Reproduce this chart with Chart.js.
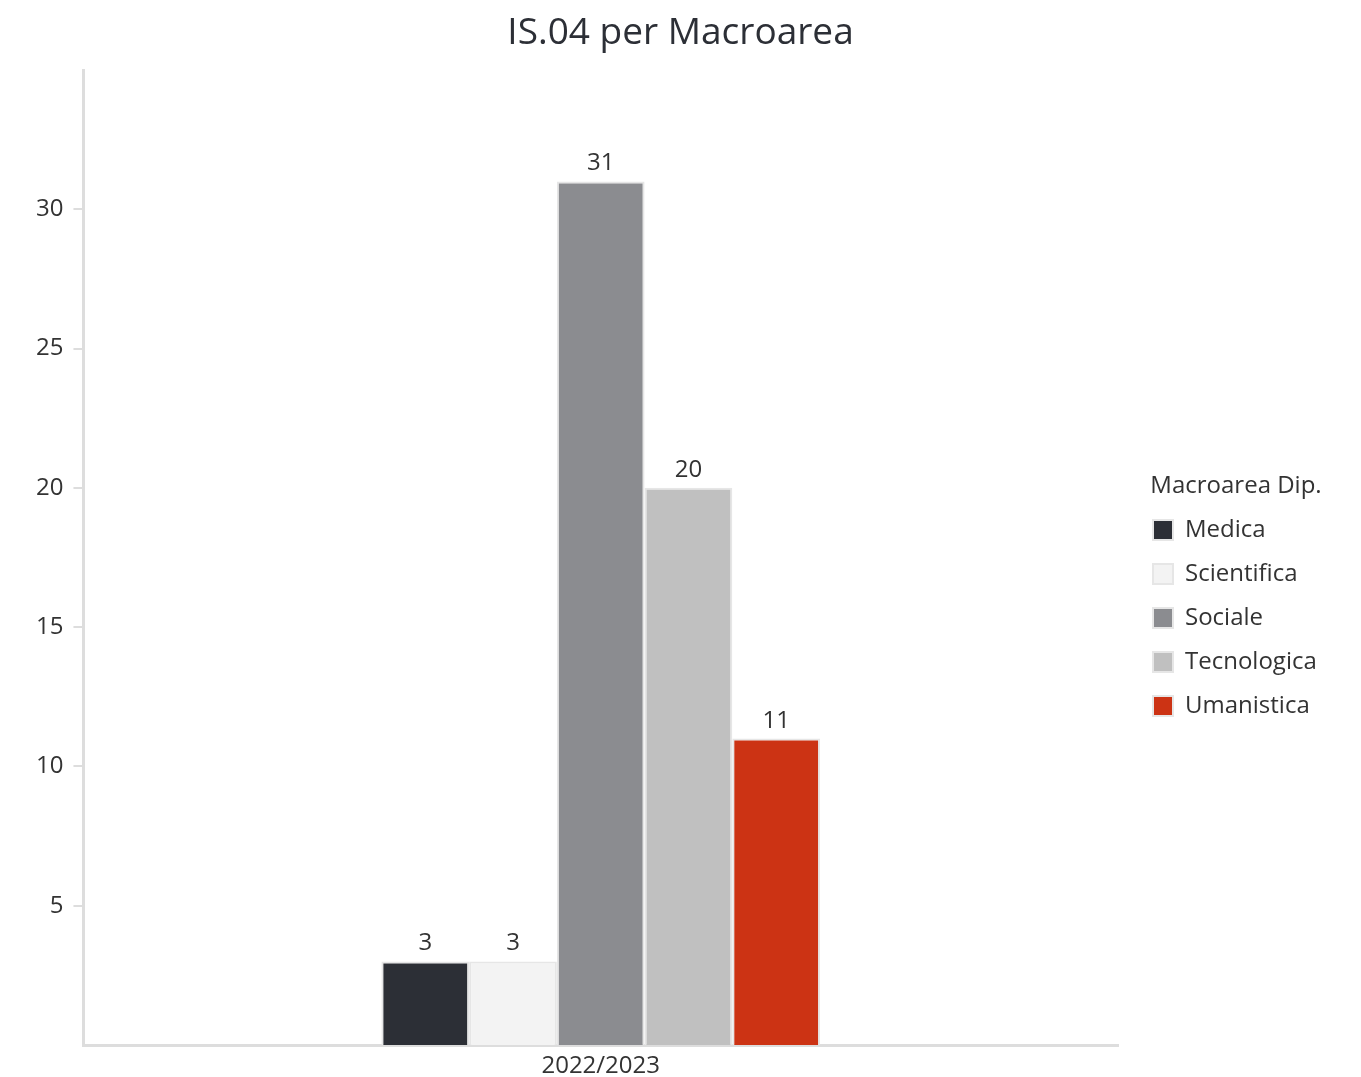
<!DOCTYPE html>
<html>
<head>
<meta charset="utf-8">
<title>IS.04 per Macroarea</title>
<script src="https://cdn.jsdelivr.net/npm/chart.js@4/dist/chart.umd.min.js"></script>
<style>
  html, body { margin: 0; padding: 0; background: #fff; }
  #wrap { width: 1361px; height: 1077px; position: relative; }
</style>
</head>
<body>
<div id="wrap"><canvas id="chart"></canvas></div>
<script>
  // Academic year on the x axis, one bar per macro-area
  const YEARS = ['2022/2023'];
  const AREAS = ['Medica', 'Scientifica', 'Sociale', 'Tecnologica', 'Umanistica'];
  const VALUES = [3, 3, 31, 20, 11];
  const AREA_COLORS = ['#2c2f36', '#f3f3f3', '#8b8c90', '#c0c0c0', '#cc3314'];
  const Y_TICKS = [5, 10, 15, 20, 25, 30];

  const FONT = "'Open Sans', sans-serif";
  const TEXT = '#333333';
  const AXIS = '#dddddd';
  const LEGEND_WIDTH = 217;

  Chart.defaults.font.family = FONT;
  Chart.defaults.color = TEXT;

  // value written above each bar
  const barLabels = {
    id: 'barLabels',
    afterDatasetsDraw(chart) {
      const ctx = chart.ctx;
      ctx.save();
      ctx.font = '24px ' + FONT;
      ctx.fillStyle = TEXT;
      ctx.textAlign = 'center';
      ctx.textBaseline = 'alphabetic';
      chart.data.datasets.forEach((ds, i) => {
        chart.getDatasetMeta(i).data.forEach((bar, j) => {
          ctx.fillText(String(ds.data[j]), bar.x, bar.y - 11);
        });
      });
      ctx.restore();
    },
  };

  // reserve a wider legend column, leave a gap after the plot
  // and line the legend title up with the swatches
  const legendGap = {
    id: 'legendGap',
    beforeLayout(chart) {
      const lg = chart.legend;
      if (!lg || lg._widened) return;
      const fit = lg.fit;
      lg.fit = function () {
        fit.call(this);
        this.width = LEGEND_WIDTH;
      };
      lg._widened = true;
    },
    afterLayout(chart) {
      const lg = chart.legend;
      if (!lg) return;
      lg.left = chart.chartArea.right + 15;
      lg.width = 206;
      lg.right = lg.left + lg.width;
    },
  };

  const datasets = AREAS.map((name, i) => ({
    label: name,
    data: [VALUES[i]],
    backgroundColor: AREA_COLORS[i],
    borderColor: '#e6e6e6',
    borderWidth: 2,
    categoryPercentage: 0.424,
    barPercentage: 1,
  }));

  new Chart(document.getElementById('chart'), {
    type: 'bar',
    data: { labels: YEARS, datasets: datasets },
    plugins: [barLabels, legendGap],
    options: {
      responsive: true,
      maintainAspectRatio: false,
      animation: false,
      layout: { padding: { left: 26, right: 26, top: 0, bottom: 0 } },
      plugins: {
        title: {
          display: true,
          text: 'IS.04 per Macroarea',
          color: '#2c2f36',
          font: { size: 37, weight: 'normal' },
          padding: { top: 11, bottom: 14.6 },
        },
        legend: {
          position: 'right',
          align: 'start',
          title: {
            display: true,
            text: 'Macroarea Dip.',
            color: TEXT,
            font: { size: 24, lineHeight: 1 },
            padding: { top: 474, bottom: 0 },
          },
          labels: {
            boxWidth: 20,
            boxHeight: 20,
            padding: 20,
            color: TEXT,
            font: { size: 24 },
          },
        },
        tooltip: { enabled: false },
      },
      scales: {
        x: {
          afterFit(scale) {
            // label sits low, close to the bottom edge
            scale.height = 32;
          },
          grid: { display: false, drawTicks: false },
          border: { display: true, color: AXIS, width: 3 },
          ticks: { font: { size: 24, lineHeight: 1 }, color: TEXT, padding: 9 },
        },
        y: {
          min: 0,
          max: 35,
          afterBuildTicks(scale) {
            scale.ticks = Y_TICKS.map((v) => ({ value: v }));
          },
          grid: {
            display: true,
            drawOnChartArea: false,
            drawTicks: true,
            tickLength: 10,
            color: AXIS,
            lineWidth: 2,
          },
          border: { display: true, color: AXIS, width: 3 },
          ticks: { font: { size: 24 }, color: TEXT, padding: 10 },
        },
      },
    },
  });
</script>
</body>
</html>
